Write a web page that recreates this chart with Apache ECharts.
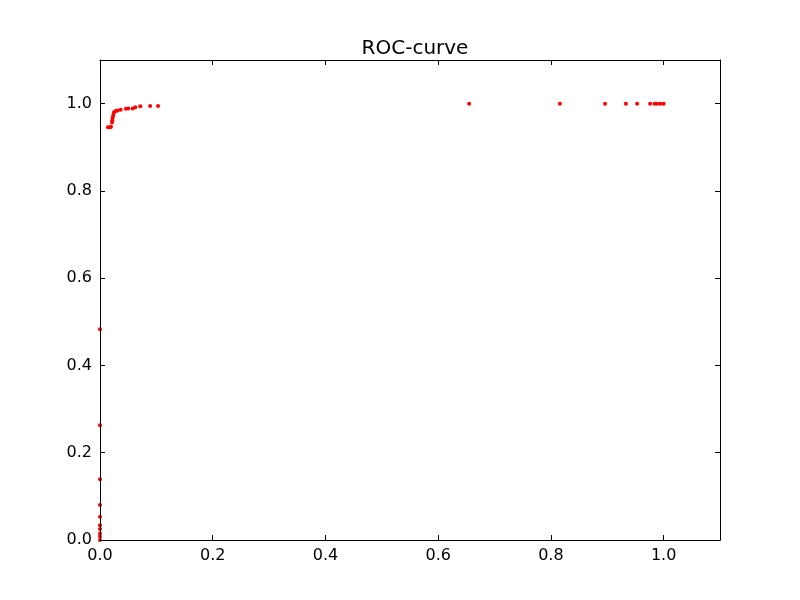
<!DOCTYPE html>
<html>
<head>
<meta charset="utf-8">
<script src="https://cdn.jsdelivr.net/npm/echarts@6.0.0/dist/echarts.min.js"></script>
<style>
  html, body { margin: 0; padding: 0; background: #fff; }
  #chart { width: 800px; height: 600px; }
</style>
</head>
<body>
<div id="chart"></div>
<script>
// ROC 点：假阳率 / 真阳率
const fpr = [
  0, 0, 0, 0, 0, 0, 0, 0, 0, 0,
  0.0142, 0.0177, 0.0195, 0.0213, 0.0219, 0.0225, 0.0236, 0.0248, 0.0278, 0.031,
  0.0367, 0.046, 0.050, 0.058, 0.0626, 0.0715, 0.089, 0.103,
  0.655, 0.816, 0.896, 0.933, 0.953, 0.976, 0.984, 0.988, 0.994, 1.0
];
const tpr = [
  0, 0.008, 0.015, 0.025, 0.034, 0.053, 0.080, 0.139, 0.263, 0.483,
  0.946, 0.946, 0.947, 0.957, 0.962, 0.968, 0.974, 0.980, 0.983, 0.984,
  0.986, 0.988, 0.989, 0.989, 0.9915, 0.9938, 0.9945, 0.9945,
  1.0, 1.0, 1.0, 1.0, 1.0, 1.0, 1.0, 1.0, 1.0, 1.0
];
const tickLabels = ["0.0", "0.2", "0.4", "0.6", "0.8", "1.0"];

const FONT = "DejaVu Sans";
const chart = echarts.init(document.getElementById("chart"), null, { renderer: "canvas" });

// 坐标轴画在点的上面（matplotlib 的边框在数据之上）
function axis(pos, showLabel) {
  return {
    type: "value", position: pos, min: 0, max: 1.1, interval: 0.2, z: 5,
    axisLine: { show: true, onZero: false, lineStyle: { color: "#000", width: 1 } },
    axisTick: { show: true, inside: true, length: 5, lineStyle: { color: "#000" } },
    splitLine: { show: false },
    axisLabel: {
      show: showLabel, showMaxLabel: false, margin: 8,
      color: "#000", fontFamily: FONT, fontSize: 16,
      formatter: v => { const s = v.toFixed(1); return tickLabels.includes(s) ? s : ""; }
    }
  };
}

chart.setOption({
  animation: false,
  backgroundColor: "#fff",
  title: {
    text: "ROC-curve", left: 410, top: 34, textAlign: "center",
    textStyle: { fontFamily: FONT, fontSize: 20, fontWeight: "normal", color: "#000" }
  },
  grid: { left: 100, top: 60, width: 620, height: 480 },
  xAxis: [axis("bottom", true), axis("top", false)],
  yAxis: [axis("left", true), axis("right", false)],
  series: [{
    type: "scatter", clip: true, z: 2,
    symbol: "circle", symbolSize: 4,
    itemStyle: { color: "#ff0000", opacity: 1 },
    data: fpr.map((x, i) => [x, tpr[i]])
  }]
});
</script>
</body>
</html>
